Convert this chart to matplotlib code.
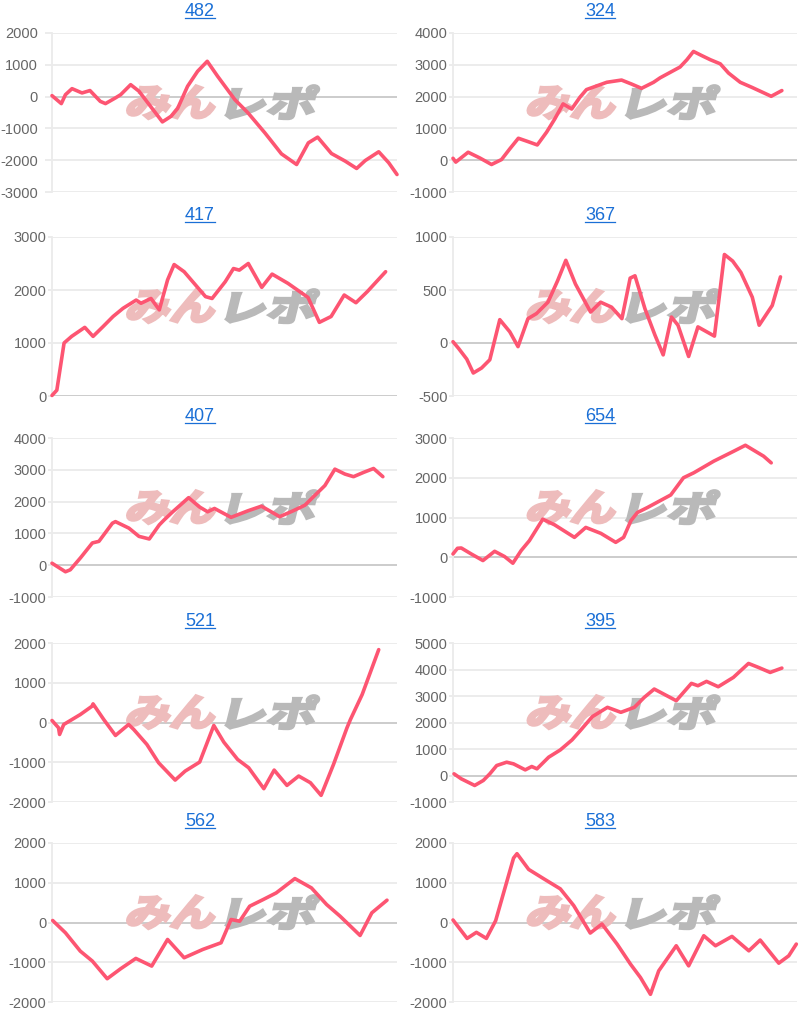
import matplotlib
matplotlib.use("Agg")
import matplotlib.pyplot as plt
from matplotlib.font_manager import FontProperties
from matplotlib.lines import Line2D
from matplotlib.patches import PathPatch
from matplotlib.textpath import TextPath
from matplotlib.transforms import Affine2D, IdentityTransform

plt.rcParams["axes.unicode_minus"] = False

# --- data (x = % of the plot width, y = balance) ---
X_482 = [0, 2.7, 3.9, 5.8, 8.7, 11, 14, 15.5, 18.4, 19.9, 22.8, 25.2, 32, 34.5, 36.4, 39.3,
         42.2, 45, 48, 53, 56.8, 61.7, 63.6, 66.5, 70.9, 74.3, 77, 81, 85, 88.3, 90.8, 94.7,
         97.6, 100]
Y_482 = [30, -220, 60, 250, 115, 190, -150, -220, -40, 60, 375, 170, -795, -620, -375, 325,
         795, 1110, 640, -95, -510, -1140, -1400, -1800, -2135, -1455, -1275, -1790, -2030,
         -2260, -2010, -1735, -2080, -2450]

X_324 = [0, 0.8, 4.4, 7.8, 11.2, 14.1, 16.5, 19, 21.8, 24.5, 27.2, 29.6, 32, 34.5, 36.9, 38.8,
         44.7, 49, 51.9, 54.8, 58.3, 60.2, 66, 68, 69.9, 72.3, 74.8, 77.7, 80.1, 83.5, 86.9,
         92.5, 95.6]
Y_324 = [60, -60, 250, 70, -135, 20, 355, 690, 585, 480, 880, 1300, 1770, 1610, 1980, 2220,
         2450, 2520, 2395, 2260, 2450, 2590, 2930, 3160, 3420, 3290, 3160, 3030, 2740, 2450,
         2290, 2010, 2190]

X_417 = [0, 1.4, 3.5, 5.7, 9.5, 11.9, 14.8, 17.7, 20.6, 24.4, 25.8, 28.7, 31.1, 33.5, 35.4,
         38.3, 44.5, 46.4, 50.2, 52.6, 54.3, 56.9, 60.8, 63.8, 68.4, 74.2, 77.5, 80.9, 84.7,
         88.1, 91.4, 96.7]
Y_417 = [10, 110, 1000, 1125, 1295, 1125, 1310, 1500, 1655, 1810, 1750, 1840, 1625, 2190,
         2480, 2345, 1875, 1840, 2155, 2405, 2375, 2500, 2050, 2300, 2125, 1860, 1390, 1500,
         1905, 1760, 1970, 2345]

X_367 = [0, 1.6, 4, 5.9, 8.3, 10.7, 13.6, 16.5, 18.9, 21.8, 24.2, 27.6, 30.4, 32.8, 35.6, 40,
         42.9, 46.1, 49.1, 51.5, 52.9, 55.8, 58.7, 61.1, 63.5, 65.4, 68.5, 71.2, 76, 78.9,
         81.3, 83.7, 87, 89, 92.8, 95.2]
Y_367 = [12, -50, -152, -283, -236, -158, 220, 106, -34, 230, 276, 385, 587, 780, 556, 292,
         385, 338, 230, 612, 634, 323, 75, -112, 245, 168, -127, 152, 65, 835, 773, 665, 432,
         168, 354, 624]

X_407 = [0, 3.9, 5.3, 8.3, 11.7, 13.6, 17.5, 18.4, 22.3, 25.2, 28.2, 31.1, 32.5, 35, 39.6,
         42.7, 45.1, 47.1, 51.9, 56.8, 60.7, 66, 69.9, 73.3, 76.2, 79.1, 82, 84.9, 87.4, 90.3,
         93.2, 95.9]
Y_407 = [62, -206, -144, 237, 700, 750, 1320, 1370, 1165, 907, 825, 1268, 1423, 1680, 2124,
         1835, 1680, 1784, 1505, 1711, 1856, 1526, 1711, 1887, 2196, 2505, 3020, 2866, 2784,
         2918, 3041, 2784]

X_654 = [0, 1.3, 2.4, 5.3, 8.7, 12.1, 15, 17.4, 19.8, 22.2, 26.1, 29.5, 35.3, 38.6, 43, 47.3,
         49.6, 51.7, 53.6, 56.5, 63.3, 67, 70, 75.8, 81.6, 85, 90.3, 92.5]
Y_654 = [83, 225, 233, 83, -83, 150, 17, -150, 167, 417, 958, 817, 500, 750, 600, 375, 500,
         917, 1125, 1250, 1567, 2000, 2125, 2417, 2667, 2817, 2542, 2375]

X_521 = [0, 1.9, 2.2, 3.4, 5.8, 8.2, 11.6, 11.9, 15, 18.4, 22.2, 23.7, 27.5, 30.9, 35.7, 38.6,
         42.8, 46.9, 49.8, 53.8, 57, 61.4, 64.4, 68.1, 71.5, 74.9, 78, 81.6, 85.5, 86.5, 89.9,
         94.7]
Y_521 = [50, -134, -301, -50, 75, 200, 410, 469, 75, -326, -50, -176, -552, -1013, -1448,
         -1222, -996, -75, -494, -929, -1138, -1665, -1197, -1582, -1347, -1515, -1833, -1054,
         -134, 75, 703, 1833]

X_395 = [0.3, 2.4, 6.3, 8.8, 10.7, 12.7, 15.6, 17.6, 21, 22.9, 24.4, 27.8, 31.2, 34.6, 37,
         40.5, 44.9, 48.8, 52.7, 55.6, 58.5, 64.9, 69.3, 71.2, 73.7, 77.1, 81.5, 85.9, 88.8,
         92.2, 95.6]
Y_395 = [63, -125, -376, -188, 63, 376, 502, 439, 213, 339, 251, 690, 966, 1343, 1694, 2221,
         2572, 2384, 2572, 2949, 3262, 2823, 3476, 3388, 3551, 3350, 3701, 4228, 4078, 3890,
         4053]

X_562 = [0.2, 3.9, 8.2, 11.7, 16, 19.9, 24.3, 28.9, 33.5, 38.3, 43.7, 49, 51.9, 54.4, 57.3,
         61.2, 65, 70.4, 75.2, 79.6, 83.5, 89.3, 92.7, 97.1]
Y_562 = [50, -259, -720, -971, -1414, -1163, -904, -1096, -427, -887, -678, -510, 75, 33, 410,
         577, 745, 1105, 870, 452, 159, -326, 243, 561]

X_583 = [0, 4.1, 6.8, 9.7, 12.4, 17.6, 18.6, 22, 26.4, 31.2, 35.1, 39.9, 43.3, 47.7, 51.6,
         54.5, 57.4, 59.8, 64.9, 68.5, 72.9, 76.3, 81.1, 86, 89.3, 94.7, 97.6, 99.8]
Y_583 = [63, -400, -248, -400, 46, 1621, 1731, 1335, 1099, 846, 425, -265, -38, -543, -1048,
         -1385, -1806, -1217, -585, -1091, -333, -585, -350, -712, -442, -1023, -838, -543]

TITLES = ["482", "324", "417", "367", "407", "654", "521", "395", "562", "583"]
SERIES = [(X_482, Y_482), (X_324, Y_324), (X_417, Y_417), (X_367, Y_367), (X_407, Y_407),
          (X_654, Y_654), (X_521, Y_521), (X_395, Y_395), (X_562, Y_562), (X_583, Y_583)]
# (lowest tick, highest tick, step)
YTICKS = [(-3000, 2000, 1000), (-1000, 4000, 1000), (0, 3000, 1000), (-500, 1000, 500),
          (-1000, 4000, 1000), (-1000, 3000, 1000), (-2000, 2000, 1000), (-1000, 5000, 1000),
          (-2000, 2000, 1000), (-2000, 2000, 1000)]

LINE = "#fd5572"
GRID = "#ebebeb"
ZERO = "#c8c8c8"
TICK_TXT = "#666666"
LINK = "#1a6fd6"
PINK = "#eebcbc"
GREY = "#b9b9b9"

W, H = 800, 1013
ROW_TOPS = [33, 237, 438, 643, 843]
AX_H = 159
COLS = [(52, 397), (453, 797)]

fig = plt.figure(figsize=(W / 100, H / 100), dpi=100)
fig.patch.set_facecolor("white")

axes = []
titles = []
for i, (title, (xs, ys), (lo, hi, step)) in enumerate(zip(TITLES, SERIES, YTICKS)):
    row, col = divmod(i, 2)
    x0, x1 = COLS[col]
    top = ROW_TOPS[row]
    ax = fig.add_axes([x0 / W, 1 - (top + AX_H) / H, (x1 - x0) / W, AX_H / H])
    ax.set_xlim(0, 100)
    ax.set_ylim(lo, hi)
    ticks = list(range(lo, hi + 1, step))
    ax.set_yticks(ticks)
    ax.set_xticks([])
    for t in ticks:
        ax.axhline(t, color=ZERO if t == 0 else GRID, lw=1.3, zorder=0.5)
    for s in ("top", "right", "bottom"):
        ax.spines[s].set_visible(False)
    ax.spines["left"].set_color(GRID)
    ax.spines["left"].set_linewidth(1.3)
    if i == 0:
        ax.tick_params(axis="y", length=5, pad=5)
    else:
        ax.tick_params(axis="y", length=3, pad=1)
    ax.tick_params(axis="y", width=1.3, color=GRID, labelsize=10.5, labelcolor=TICK_TXT)
    for lab in ax.get_yticklabels():
        lab.set_family("Liberation Sans")
    ax.plot(xs, ys, color=LINE, lw=2.6, solid_joinstyle="round", solid_capstyle="round",
            zorder=3, clip_on=False)
    axes.append(ax)

    cx = (0 if col == 0 else 400) + 200
    t = fig.text(cx / W, 1 - (top - 17) / H, title, ha="center", va="baseline",
                 fontsize=13, color=LINK, family="Liberation Sans")
    titles.append(t)

fig.canvas.draw()
renderer = fig.canvas.get_renderer()

# underline the titles (they are links in the original)
for t in titles:
    bb = t.get_window_extent(renderer)
    _, base = t.get_transform().transform(t.get_position())
    fig.add_artist(Line2D([bb.x0, bb.x1], [base - 2, base - 2], color=LINK, lw=0.9,
                          transform=IdentityTransform()))

# site watermark behind each line
wm_prop = FontProperties(family="Noto Sans CJK JP", weight="bold")
for ax in axes:
    cx, cy = ax.transAxes.transform((0.5, 0.565))
    for txt, color, dx in (("みん", PINK, -52), ("レポ", GREY, 48)):
        tp = TextPath((0, 0), txt, size=40, prop=wm_prop)
        bb = tp.get_extents()
        tr = (Affine2D().translate(-bb.x0 - bb.width / 2, -bb.y0 - bb.height / 2)
              .scale(86 / bb.width, 33 / bb.height).skew_deg(14, 0).translate(cx + dx, cy))
        patch = PathPatch(tp, facecolor=color, edgecolor=color, lw=2.2, zorder=1)
        patch.set_transform(tr)
        ax.add_artist(patch)

fig.savefig("out.png", dpi=100)
